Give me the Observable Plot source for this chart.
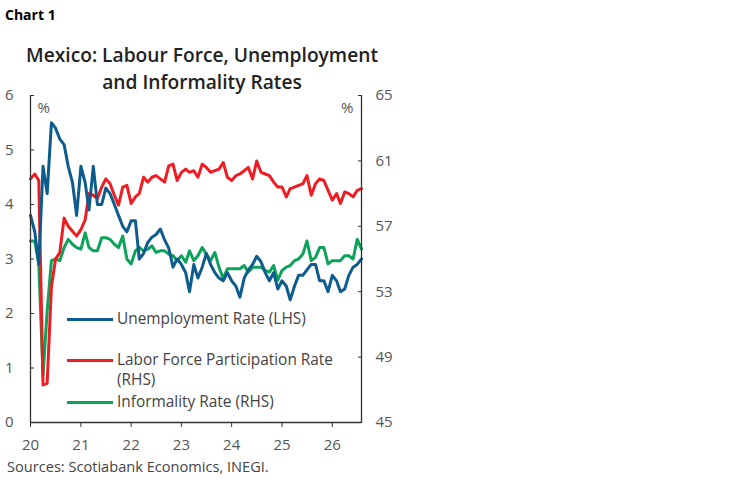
<!DOCTYPE html>
<html><head><meta charset="utf-8">
<script src="https://cdn.jsdelivr.net/npm/d3@7"></script>
<script src="https://cdn.jsdelivr.net/npm/@observablehq/plot@0.6"></script>
<style>
body{margin:0;background:#fff;font-family:"Open Sans",sans-serif;}
#wrap{position:relative;width:750px;height:483px;overflow:hidden;}
#kicker{position:absolute;left:5px;top:5px;font-weight:700;font-size:14px;color:#000;}
#title{position:absolute;left:0;width:404px;top:41px;text-align:center;font-weight:600;font-size:19.2px;line-height:27px;color:#222;}
#chart{position:absolute;left:0;top:85px;}
#source{position:absolute;left:7px;top:456px;font-size:14.6px;color:#444;}
.lg{position:absolute;left:67px;font-size:15.4px;line-height:20px;color:#444;display:flex;align-items:flex-start;}
.lg .sw{width:46px;height:3px;margin-top:8.5px;margin-right:4px;flex:none;}
</style></head>
<body><div id="wrap">
<div id="kicker">Chart 1</div>
<div id="title">Mexico: Labour Force, Unemployment<br>and Informality Rates</div>
<div id="chart"></div>
<div id="source">Sources: Scotiabank Economics, INEGI.</div>
</div>
<script>
// Monthly data, Jan 2020 onward
const unemployment = [3.8,3.5,2.9,4.7,4.2,5.5,5.4,5.2,5.1,4.7,4.4,3.8,
 4.7,4.4,3.9,4.7,4.0,4.0,4.3,4.2,4.0,3.8,3.6,3.5,
 3.7,3.7,3.0,3.1,3.3,3.4,3.45,3.55,3.35,3.2,2.85,3.0,
 2.9,2.75,2.4,2.9,2.65,2.85,3.1,2.9,2.75,2.65,2.6,2.75,
 2.6,2.5,2.3,2.65,2.8,2.9,3.05,2.95,2.75,2.6,2.75,2.45,
 2.6,2.5,2.25,2.5,2.7,2.7,2.8,2.9,2.9,2.6,2.6,2.4,
 2.7,2.6,2.4,2.45,2.7,2.85,2.9,3.0];
const participation = [59.9,60.2,59.8,47.3,47.4,53.3,55.0,55.4,57.5,57.0,56.7,56.4,
 56.8,57.4,59.0,58.9,58.7,59.4,59.9,59.6,58.9,58.3,59.4,59.5,
 58.4,58.8,59.0,60.0,59.7,60.0,60.1,59.9,59.7,60.7,60.8,59.8,
 60.3,60.5,60.3,60.4,60.0,60.8,60.6,60.3,60.4,60.5,60.9,60.0,
 59.8,60.1,60.2,60.4,60.6,59.9,61.0,60.3,60.2,60.1,59.7,59.4,
 59.4,58.8,59.3,59.4,59.5,59.6,60.1,58.9,59.6,59.9,59.8,59.2,
 58.6,59.0,58.4,59.1,59.0,58.8,59.2,59.3];
const informality = [56.1,56.1,54.7,47.9,51.8,54.9,55.0,54.9,55.7,56.2,55.9,55.7,
 55.6,56.6,55.7,55.5,55.5,56.3,56.3,56.2,55.9,55.7,56.4,55.0,
 54.7,55.5,55.7,55.5,55.6,55.8,55.4,55.5,55.5,55.3,55.2,54.9,
 55.2,54.8,55.5,54.9,55.2,55.7,55.3,54.9,55.4,54.5,53.8,54.4,
 54.4,54.4,54.4,54.6,54.2,54.5,54.5,54.5,54.3,54.2,54.6,53.7,
 54.3,54.5,54.6,54.9,55.0,55.3,56.1,54.9,55.1,55.7,55.7,54.7,
 54.9,54.9,54.9,55.2,55.2,55.0,56.2,55.6];
const leftTicks = [0,1,2,3,4,5,6];
const rightTicks = [45,49,53,57,61,65];
const yearTicks = [2020,2021,2022,2023,2024,2025,2026];
const yearLabels = ["20","21","22","23","24","25","26"];
const seriesNames = ["Unemployment Rate (LHS)","Labor Force Participation Rate (RHS)","Informality Rate (RHS)"];
const colors = ["#0e5c8d","#ee1d23","#0ca25a"];

const start = new Date(Date.UTC(2020,0,1));
const months = unemployment.map((_, i) => new Date(Date.UTC(2020, i, 1)));
const end = months[months.length-1];
const L = [0,6], R = [45,65];
const toLeft = v => L[0] + (v - R[0]) * (L[1]-L[0]) / (R[1]-R[0]);
const toRight = v => R[0] + (v - L[0]) * (R[1]-R[0]) / (L[1]-L[0]);

const rows = [];
months.forEach((d,i) => {
  rows.push({date:d, s:seriesNames[0], y:unemployment[i]});
  rows.push({date:d, s:seriesNames[1], y:toLeft(participation[i])});
  rows.push({date:d, s:seriesNames[2], y:toLeft(informality[i])});
});
const yearDates = yearTicks.map(y => new Date(Date.UTC(y,0,1)));
const axisColor = "#333";
const labelColor = "#555";

const chart = Plot.plot({
  width: 400, height: 375,
  marginLeft: 30, marginRight: 39, marginTop: 10, marginBottom: 38,
  style: {fontFamily: '"Open Sans", sans-serif', fontSize: "15px", background: "transparent"},
  x: {type: "utc", domain: [start, end]},
  y: {domain: L},
  marks: [
    Plot.lineY(rows.filter(r => r.s === seriesNames[2]), {x:"date", y:"y", stroke: colors[2], strokeWidth: 3}),
    Plot.lineY(rows.filter(r => r.s === seriesNames[1]), {x:"date", y:"y", stroke: colors[1], strokeWidth: 3}),
    Plot.lineY(rows.filter(r => r.s === seriesNames[0]), {x:"date", y:"y", stroke: colors[0], strokeWidth: 3}),
    Plot.ruleX([start], {stroke: axisColor, strokeWidth: 1.3}),
    Plot.ruleX([end], {stroke: axisColor, strokeWidth: 1.3}),
    Plot.ruleY([0], {stroke: axisColor, strokeWidth: 1.3}),
    // left axis: inward tick marks + labels
    Plot.axisY(leftTicks, {anchor: "left", tickSize: 4, dx: 4, tickFormat: () => "", stroke: axisColor, label: null}),
    Plot.axisY(leftTicks, {anchor: "left", tickSize: 0, tickPadding: 17, fill: labelColor, label: null, tickFormat: d => String(d)}),
    // right axis
    Plot.axisY(rightTicks.map(toLeft), {anchor: "right", tickSize: 4, dx: -4, tickFormat: () => "", stroke: axisColor, label: null}),
    Plot.axisY(rightTicks.map(toLeft), {anchor: "right", tickSize: 0, tickPadding: 14, fill: labelColor, label: null, tickFormat: d => String(Math.round(toRight(d)))}),
    // bottom axis
    Plot.axisX(yearDates, {anchor: "bottom", tickSize: 5, tickPadding: 12, stroke: axisColor, fill: labelColor, label: null, tickFormat: (d, i) => yearLabels[i]}),
    Plot.text(["%"], {frameAnchor: "top-left", dx: 7, dy: 7, fill: labelColor}),
    Plot.text(["%"], {frameAnchor: "top-right", dx: -8, dy: 7, fill: labelColor})
  ]
});
document.getElementById("chart").appendChild(chart);

// legend
const legendTops = [309, 350, 392];
const legendLabels = ["Unemployment Rate (LHS)", "Labor Force Participation Rate<br>(RHS)", "Informality Rate (RHS)"];
const wrap = document.getElementById("wrap");
legendLabels.forEach((t, i) => {
  const el = document.createElement("div");
  el.className = "lg";
  el.style.top = legendTops[i] + "px";
  el.innerHTML = `<span class="sw" style="background:${colors[i]}"></span><span>${t}</span>`;
  wrap.appendChild(el);
});
</script>
</body></html>
